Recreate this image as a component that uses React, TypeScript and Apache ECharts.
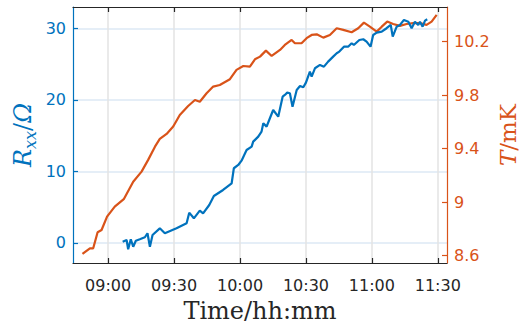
import React, { useEffect, useRef } from "react";
import * as echarts from "echarts";

// time in minutes since midnight
const timeTicks = [540, 570, 600, 630, 660, 690];
const rTicks = [0, 10, 20, 30];
const tTicks = [8.6, 9, 9.4, 9.8, 10.2];

const rTime = [
  546.6, 548.4, 549.1, 550.3, 551.4, 552.6, 554.4, 556.7, 557.9, 559.0, 560.2, 563.5, 565.8, 571.1,
  575.7, 576.9, 579.0, 581.7, 583.2, 586.0, 588.1, 592.3, 596.2, 597.2, 599.2, 600.7, 603.0, 605.3,
  606.0, 608.3, 609.8, 610.6, 612.1, 613.6, 615.1, 617.4, 619.4, 620.4, 621.5, 622.7, 623.9, 625.8,
  627.3, 628.8, 630.0, 631.8, 632.6, 634.1, 636.4, 638.2, 640.1, 642.4, 644.0, 645.2, 647.3, 649.2,
  650.8, 651.8, 654.3, 656.1, 657.6, 659.4, 660.6, 662.2, 664.5, 666.7, 668.6, 669.5, 671.3, 672.8,
  674.6, 676.6, 678.1, 679.6, 681.1, 681.9, 683.1, 684.2, 685.2,
];
const rValues = [
  0.18, 0.42, -0.88, 0.52, -0.52, 0.32, 0.52, 0.8, 1.36, -0.52, 1.12, 2.05, 1.36, 2.05,
  2.75, 4.24, 3.45, 4.52, 4.15, 5.31, 6.57, 7.41, 8.35, 10.45, 10.91, 11.51, 13.0, 13.47,
  14.17, 14.87, 15.57, 16.74, 16.27, 17.44, 18.6, 17.66, 20.46, 20.7, 21.02, 20.94, 19.06, 21.4,
  21.96, 21.78, 22.42, 23.96, 23.26, 24.43, 24.9, 24.66, 25.36, 26.06, 26.53, 26.76, 27.45, 27.45,
  27.93, 27.69, 28.39, 28.49, 28.15, 27.45, 29.09, 29.41, 29.55, 30.03, 30.49, 28.85, 30.25, 30.49,
  31.19, 30.95, 30.03, 30.95, 30.49, 30.95, 30.25, 31.09, 31.29,
];

const tTime = [
  528.3, 531.7, 533.2, 535.2, 537.0, 539.5, 543.0, 547.1, 551.4, 555.2, 558.2, 561.3, 563.5, 566.6,
  569.6, 572.6, 576.4, 579.5, 581.7, 584.8, 587.8, 590.8, 595.4, 598.4, 601.5, 604.5, 606.8, 609.1,
  611.8, 614.4, 618.2, 620.4, 623.5, 625.0, 628.0, 630.3, 632.6, 634.9, 637.9, 640.9, 644.0, 647.0,
  650.8, 653.8, 656.4, 659.1, 662.2, 664.5, 667.0, 669.7, 672.8, 675.8, 678.8, 681.9, 684.9, 687.2,
  689.5,
];
const tValues = [
  8.613, 8.655, 8.655, 8.775, 8.792, 8.892, 8.966, 9.022, 9.153, 9.228, 9.316, 9.415, 9.473, 9.51,
  9.565, 9.652, 9.719, 9.764, 9.751, 9.814, 9.864, 9.876, 9.919, 9.989, 10.018, 10.013, 10.068, 10.088,
  10.133, 10.093, 10.138, 10.175, 10.213, 10.188, 10.188, 10.226, 10.25, 10.255, 10.23, 10.25, 10.3, 10.288,
  10.27, 10.3, 10.342, 10.312, 10.275, 10.312, 10.35, 10.332, 10.318, 10.332, 10.338, 10.338, 10.325, 10.35,
  10.4,
];

const BLUE = "#0072BD";
const ORANGE = "#D95319";
const DARK = "#262626";

const fmtTime = (v: number) => {
  const h = Math.floor(v / 60);
  const m = Math.round(v - h * 60);
  return String(h).padStart(2, "0") + ":" + String(m).padStart(2, "0");
};

export default function App() {
  const ref = useRef<HTMLDivElement>(null);
  useEffect(() => {
    if (!ref.current) return;
    const chart = echarts.init(ref.current, null, { renderer: "svg" });
    const serif = "DejaVu Serif";
    chart.setOption({
      animation: false,
      backgroundColor: "#ffffff",
      grid: { left: 73, right: 75, top: 7, bottom: 63, outerBoundsMode: "none" },
      xAxis: [
        {
          type: "value",
          min: 524,
          max: 694.2,
          name: "Time/hh:mm",
          nameLocation: "middle",
          nameGap: 36,
          nameMoveOverlap: false,
          nameTextStyle: { fontFamily: serif, fontSize: 24, color: DARK },
          axisLine: { show: true, onZero: false, lineStyle: { color: DARK, width: 1.2 } },
          axisTick: { show: true, inside: true, length: 5, customValues: timeTicks, lineStyle: { color: DARK, width: 1.2 } },
          axisLabel: {
            customValues: timeTicks,
            formatter: (v: number) => fmtTime(v),
            fontFamily: "DejaVu Sans",
            fontSize: 16,
            color: DARK,
            margin: 14,
          },
          splitLine: { show: true, lineStyle: { color: "#e3e3e3", width: 1.5 } },
        },
        {
          type: "value",
          position: "top",
          min: 524,
          max: 694.2,
          axisLine: { show: true, onZero: false, lineStyle: { color: DARK, width: 1.2 } },
          axisTick: { show: true, inside: true, length: 5, customValues: timeTicks, lineStyle: { color: DARK, width: 1.2 } },
          axisLabel: { show: false, customValues: timeTicks },
          splitLine: { show: false },
        },
      ],
      yAxis: [
        {
          type: "value",
          min: -2.8,
          max: 33,
          position: "left",
          name: "{r|R}{s|xx}{n|/}{o|Ω}",
          nameLocation: "middle",
          nameRotate: 90,
          nameGap: 35,
          nameMoveOverlap: false,
          nameTextStyle: {
            rich: {
              r: { fontFamily: serif, fontStyle: "italic", fontSize: 24, color: BLUE, lineHeight: 30, verticalAlign: "middle" },
              s: { fontFamily: serif, fontStyle: "italic", fontSize: 16, color: BLUE, lineHeight: 16, verticalAlign: "bottom" },
              n: { fontFamily: serif, fontSize: 24, color: BLUE, lineHeight: 30, verticalAlign: "middle" },
              o: { fontFamily: serif, fontStyle: "italic", fontSize: 24, color: BLUE, lineHeight: 30, verticalAlign: "middle" },
            },
          },
          axisLine: { show: true, onZero: false, lineStyle: { color: BLUE, width: 1.2 } },
          axisTick: { show: true, inside: true, length: 5, customValues: rTicks, lineStyle: { color: BLUE, width: 1.2 } },
          axisLabel: { customValues: rTicks, fontFamily: "DejaVu Sans", fontSize: 16, color: BLUE, margin: 7 },
          splitLine: { show: true, lineStyle: { color: "#dde9f4", width: 1.5 } },
        },
        {
          type: "value",
          min: 8.545,
          max: 10.459,
          position: "right",
          name: "{t|T}{u|/mK}",
          nameLocation: "middle",
          nameRotate: 90,
          nameGap: 51,
          nameMoveOverlap: false,
          nameTextStyle: {
            rich: {
              t: { fontFamily: serif, fontStyle: "italic", fontSize: 23, color: ORANGE, lineHeight: 20 },
              u: { fontFamily: serif, fontSize: 23, color: ORANGE, lineHeight: 20 },
            },
          },
          axisLine: { show: true, onZero: false, lineStyle: { color: ORANGE, width: 1.2 } },
          axisTick: { show: true, inside: true, length: 5, customValues: tTicks, lineStyle: { color: ORANGE, width: 1.2 } },
          axisLabel: { customValues: tTicks, fontFamily: "DejaVu Sans", fontSize: 16, color: ORANGE, margin: 7 },
          splitLine: { show: false },
        },
      ],
      series: [
        {
          type: "line",
          xAxisIndex: 0,
          yAxisIndex: 1,
          data: tTime.map((t, i) => [t, tValues[i]]),
          showSymbol: false,
          lineStyle: { color: ORANGE, width: 2.2 },
          itemStyle: { color: ORANGE },
        },
        {
          type: "line",
          xAxisIndex: 0,
          yAxisIndex: 0,
          data: rTime.map((t, i) => [t, rValues[i]]),
          showSymbol: false,
          lineStyle: { color: BLUE, width: 2.2 },
          itemStyle: { color: BLUE },
        },
      ],
    });
    return () => chart.dispose();
  }, []);
  return (
    <div
      ref={ref}
      style={{ position: "absolute", left: 0, top: 0, width: 522, height: 326 }}
    />
  );
}
